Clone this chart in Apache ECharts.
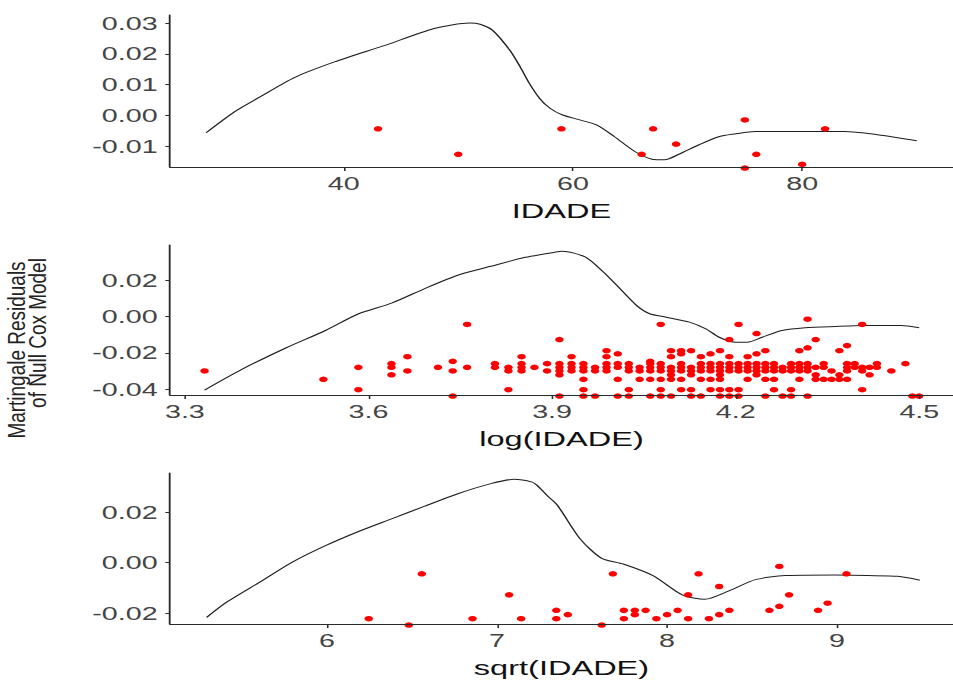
<!DOCTYPE html>
<html>
<head>
<meta charset="utf-8">
<script src="https://cdn.jsdelivr.net/npm/echarts@6/dist/echarts.min.js"></script>
<style>
  html, body { margin: 0; padding: 0; background: #fff; overflow: hidden; }
  #chart { width: 615px; height: 684px; transform-origin: 0 0; }
</style>
</head>
<body>
<div id="chart"></div>
<script>
// Martingale residuals of the null Cox model: [IDADE, residual]
const observations = [
  [28,-0.0299],
  [34,-0.0345],
  [36,-0.0279],[36,-0.0402],
  [38,-0.0259],[38,-0.0279],[38,-0.0320],
  [39,-0.0221],[39,-0.0299],
  [41,-0.0279],
  [42,-0.0246],[42,-0.0299],[42,-0.0437],
  [43,-0.0044],[43,-0.0279],
  [45,-0.0259],[45,-0.0279],
  [46,-0.0279],[46,-0.0299],[46,-0.0402],
  [47,-0.0221],[47,-0.0259],[47,-0.0279],[47,-0.0299],
  [48,-0.0279],
  [49,-0.0259],[49,-0.0299],
  [50,-0.0127],[50,-0.0259],[50,-0.0279],[50,-0.0299],[50,-0.0320],[50,-0.0437],
  [51,-0.0221],[51,-0.0259],[51,-0.0279],[51,-0.0299],
  [52,-0.0259],[52,-0.0279],[52,-0.0299],[52,-0.0345],[52,-0.0402],[52,-0.0437],
  [53,-0.0279],[53,-0.0299],[53,-0.0437],
  [54,-0.0188],[54,-0.0221],[54,-0.0259],[54,-0.0279],[54,-0.0299],
  [55,-0.0205],[55,-0.0259],[55,-0.0279],[55,-0.0345],[55,-0.0437],
  [56,-0.0259],[56,-0.0279],[56,-0.0299],[56,-0.0402],[56,-0.0437],
  [57,-0.0279],[57,-0.0299],[57,-0.0345],
  [58,-0.0246],[58,-0.0259],[58,-0.0279],[58,-0.0299],[58,-0.0345],[58,-0.0437],
  [59,-0.0044],[59,-0.0259],[59,-0.0279],[59,-0.0299],[59,-0.0345],[59,-0.0402],[59,-0.0437],
  [60,-0.0188],[60,-0.0221],[60,-0.0279],[60,-0.0299],[60,-0.0320],[60,-0.0345],[60,-0.0437],
  [61,-0.0188],[61,-0.0205],[61,-0.0259],[61,-0.0279],[61,-0.0299],[61,-0.0345],[61,-0.0402],
  [62,-0.0188],[62,-0.0279],[62,-0.0299],[62,-0.0320],[62,-0.0402],[62,-0.0437],
  [63,-0.0221],[63,-0.0259],[63,-0.0279],[63,-0.0299],[63,-0.0345],[63,-0.0437],
  [64,-0.0205],[64,-0.0259],[64,-0.0279],[64,-0.0299],[64,-0.0345],[64,-0.0402],
  [65,-0.0188],[65,-0.0259],[65,-0.0279],[65,-0.0299],[65,-0.0320],[65,-0.0345],[65,-0.0402],[65,-0.0437],
  [66,-0.0127],[66,-0.0221],[66,-0.0259],[66,-0.0279],[66,-0.0299],[66,-0.0402],[66,-0.0437],
  [67,-0.0044],[67,-0.0259],[67,-0.0279],[67,-0.0299],[67,-0.0402],[67,-0.0437],
  [68,-0.0221],[68,-0.0259],[68,-0.0279],[68,-0.0299],[68,-0.0345],
  [69,-0.0094],[69,-0.0205],[69,-0.0259],[69,-0.0279],[69,-0.0299],[69,-0.0320],
  [70,-0.0188],[70,-0.0259],[70,-0.0279],[70,-0.0299],[70,-0.0345],[70,-0.0437],
  [71,-0.0259],[71,-0.0279],[71,-0.0299],[71,-0.0345],[71,-0.0402],
  [72,-0.0279],[72,-0.0299],[72,-0.0437],
  [73,-0.0259],[73,-0.0279],[73,-0.0299],[73,-0.0402],[73,-0.0437],
  [74,-0.0188],[74,-0.0259],[74,-0.0279],[74,-0.0299],[74,-0.0345],
  [75,-0.0015],[75,-0.0172],[75,-0.0259],[75,-0.0279],[75,-0.0299],[75,-0.0437],
  [76,-0.0127],[76,-0.0279],[76,-0.0320],[76,-0.0345],
  [77,-0.0259],[77,-0.0279],[77,-0.0345],
  [78,-0.0299],[78,-0.0345],
  [79,-0.0188],[79,-0.0320],[79,-0.0345],
  [80,-0.0160],[80,-0.0259],[80,-0.0279],[80,-0.0299],[80,-0.0345],
  [81,-0.0259],[81,-0.0279],
  [82,-0.0044],[82,-0.0279],[82,-0.0299],[82,-0.0402],
  [83,-0.0279],[83,-0.0320],
  [84,-0.0259],[84,-0.0279],
  [86,-0.0299],
  [88,-0.0259],
  [89,-0.0437],
  [90,-0.0437]
];

// Smoothed fits, one per transformation of IDADE
const fitIdade = [
  [28,-0.0057],[30.5,0.0012],[32.7,0.0060],[35.7,0.0123],[39.2,0.0174],[43.6,0.0228],
  [47.9,0.0283],[51.0,0.0301],[51.9,0.0297],[53.0,0.0277],[54.5,0.0212],[55.4,0.0158],
  [56.2,0.0104],[57.1,0.0055],[58.0,0.0023],[59.1,0.0001],[60.6,-0.0015],[62.1,-0.0032],
  [63.6,-0.0069],[65.4,-0.0118],[66.9,-0.0143],[68.0,-0.0145],[69.3,-0.0126],[71.0,-0.0096],
  [72.8,-0.0069],[74.1,-0.0061],[75.9,-0.0053],[80.6,-0.0053],[83.7,-0.0053],[86.3,-0.0062],
  [90,-0.0083]
];
const fitLog = [
  [3.3322,-0.0404],[3.3946,-0.0288],[3.4649,-0.0173],[3.5298,-0.0077],[3.5838,0.0015],
  [3.6378,0.0073],[3.6919,0.0153],[3.7459,0.0226],[3.7999,0.0275],[3.8541,0.0323],
  [3.8757,0.0336],[3.9027,0.0351],[3.9162,0.0358],[3.9540,0.0327],[3.9838,0.0244],
  [4.0108,0.0153],[4.0378,0.0061],[4.0594,0.0015],[4.0865,-0.0004],[4.1243,-0.0031],
  [4.1513,-0.0068],[4.1729,-0.0114],[4.2000,-0.0141],[4.2189,-0.0141],[4.2432,-0.0114],
  [4.2757,-0.0077],[4.3135,-0.0062],[4.3621,-0.0055],[4.4108,-0.0050],[4.4702,-0.0050],
  [4.4998,-0.0062]
];
const fitSqrt = [
  [5.2915,-0.0216],[5.4070,-0.0157],[5.6013,-0.0078],[5.7957,0.0002],[5.9907,0.0067],
  [6.1850,0.0123],[6.3794,0.0173],[6.5744,0.0223],[6.7688,0.0272],[6.9632,0.0312],
  [7.0998,0.0329],[7.2067,0.0318],[7.2359,0.0305],[7.2942,0.0265],[7.3526,0.0229],
  [7.4886,0.0094],[7.6153,0.0017],[7.7420,-0.0005],[7.9171,-0.0051],[8.0922,-0.0128],
  [8.2228,-0.0144],[8.3643,-0.0111],[8.5202,-0.0067],[8.6952,-0.0051],[8.9871,-0.0049],
  [9.1815,-0.0051],[9.3566,-0.0054],[9.4868,-0.0069]
];

// Tick values per panel
const xTicksIdade = [40, 60, 80];
const xTicksLog = [3.3, 3.6, 3.9, 4.2, 4.5];
const xTicksSqrt = [6, 7, 8, 9];
const yTicksIdade = [-0.01, 0, 0.01, 0.02, 0.03];
const yTicksLog = [-0.04, -0.02, 0, 0.02];
const yTicksSqrt = [-0.02, 0, 0.02];

const xTitles = ['IDADE', 'log(IDADE)', 'sqrt(IDADE)'];
const yTitleLines = ['Martingale Residuals', 'of Null Cox Model'];

// The drawing is laid out in page pixels and widened horizontally by SX
const PAGE_W = 953;
const BASE_W = 615;
const SX = PAGE_W / BASE_W;
const px = v => v / SX;

const dom = document.getElementById('chart');
dom.style.transform = 'scaleX(' + SX + ')';

const FONT = '"Liberation Sans", Arial, Helvetica, sans-serif';
const AXIS_COLOR = '#2b2b2b';
const LABEL_COLOR = '#444';

const panels = [
  { top: 15,  height: 152, xMin: 24.85,  xMax: 93.16,  yMin: -0.01685, yMax: 0.0327,
    xTicks: xTicksIdade, yTicks: yTicksIdade, xDec: 0, fit: fitIdade, tf: a => a },
  { top: 245, height: 150, xMin: 3.2757, xMax: 4.5551, yMin: -0.0431,  yMax: 0.0392,
    xTicks: xTicksLog,   yTicks: yTicksLog,   xDec: 1, fit: fitLog,   tf: a => Math.log(a) },
  { top: 473, height: 151, xMin: 5.076,  xMax: 9.682,  yMin: -0.0242,  yMax: 0.0354,
    xTicks: xTicksSqrt,  yTicks: yTicksSqrt,  xDec: 0, fit: fitSqrt,  tf: a => Math.sqrt(a) }
];

const grid = [], xAxis = [], yAxis = [], series = [];
panels.forEach((p, i) => {
  // points whose centre sits within ~2px of the lower edge are still drawn on the axis
  const edgeTol = 2 * (p.yMax - p.yMin) / p.height;
  grid.push({ left: px(170), top: p.top, width: px(789), height: p.height, containLabel: false });
  xAxis.push({
    type: 'value', gridIndex: i, min: p.xMin, max: p.xMax, z: 5,
    name: xTitles[i], nameLocation: 'middle', nameGap: 33,
    nameTextStyle: { fontFamily: FONT, fontSize: 21, color: '#111' },
    axisLine: { show: true, onZero: false, lineStyle: { color: AXIS_COLOR, width: 1.2 } },
    axisTick: { show: true, length: 4, customValues: p.xTicks, lineStyle: { color: AXIS_COLOR } },
    axisLabel: { customValues: p.xTicks, margin: 7, fontFamily: FONT, fontSize: 18.5, color: LABEL_COLOR,
                 formatter: v => Number(v).toFixed(p.xDec) },
    splitLine: { show: false }
  });
  yAxis.push({
    type: 'value', gridIndex: i, min: p.yMin, max: p.yMax,
    axisLine: { show: true, onZero: false, lineStyle: { color: AXIS_COLOR, width: 1.2 } },
    axisTick: { show: true, length: 3, customValues: p.yTicks, lineStyle: { color: AXIS_COLOR } },
    axisLabel: { customValues: p.yTicks, margin: 8, fontFamily: FONT, fontSize: 18.5, color: LABEL_COLOR,
                 formatter: v => Number(v).toFixed(2) },
    splitLine: { show: false }
  });
  series.push({
    type: 'line', xAxisIndex: i, yAxisIndex: i, data: p.fit,
    showSymbol: false, smooth: 0.25, clip: true, z: 2,
    lineStyle: { color: '#1f1f1f', width: 1 }
  });
  series.push({
    type: 'scatter', xAxisIndex: i, yAxisIndex: i, clip: false, z: 3,
    data: observations
      .filter(o => o[1] >= p.yMin - edgeTol && o[1] <= p.yMax)
      .map(o => [p.tf(o[0]), o[1]]),
    symbol: 'circle', symbolSize: 5.5,
    itemStyle: { color: '#ff0000', opacity: 1 }
  });
});

// Shared y-axis title, two rotated lines in a condensed face
const yTitleStyle = text => ({
  text, fontFamily: FONT, fontSize: 19, fill: '#222', align: 'center', verticalAlign: 'middle'
});

const chart = echarts.init(dom, null, { renderer: 'svg' });
chart.setOption({
  animation: false,
  backgroundColor: '#fff',
  grid, xAxis, yAxis, series,
  graphic: [
    { type: 'text', x: px(17), y: 350, rotation: Math.PI / 2, scaleY: 0.8,
      style: yTitleStyle(yTitleLines[0]) },
    { type: 'text', x: px(38), y: 333, rotation: Math.PI / 2, scaleY: 0.8,
      style: yTitleStyle(yTitleLines[1]) }
  ]
});
</script>
</body>
</html>
